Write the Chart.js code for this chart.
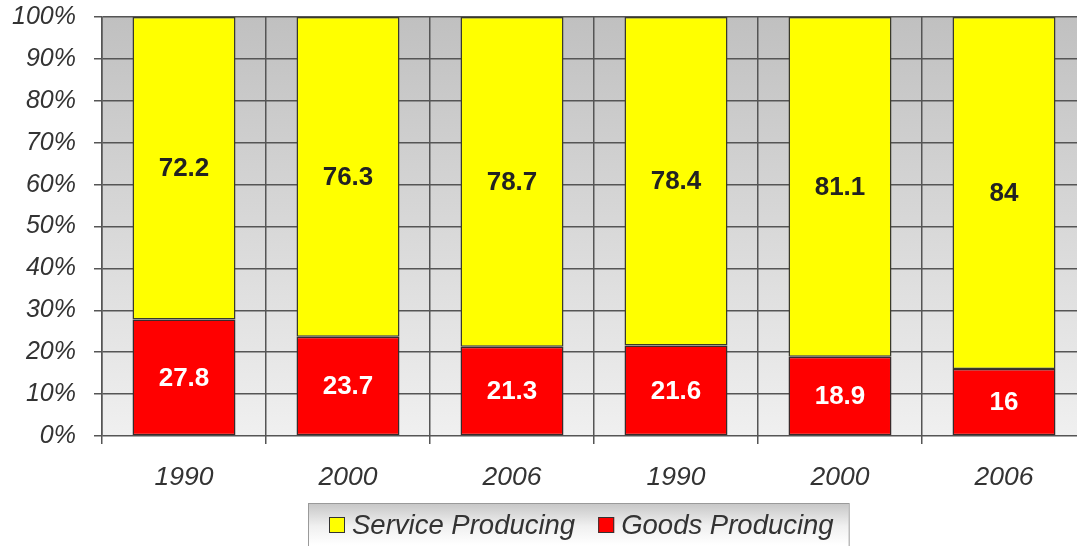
<!DOCTYPE html>
<html>
<head>
<meta charset="utf-8">
<script src="https://cdn.jsdelivr.net/npm/chart.js@4/dist/chart.umd.min.js"></script>
<style>
  html, body { margin: 0; padding: 0; background: #fff; overflow: hidden; }
  #wrap { position: absolute; left: 0; top: -16px; width: 1118px; height: 566px; }
</style>
</head>
<body>
<div id="wrap"><canvas id="c"></canvas></div>
<script>
const categories = ['1990', '2000', '2006', '1990', '2000', '2006'];
const serviceProducing = [72.2, 76.3, 78.7, 78.4, 81.1, 84];
const goodsProducing = [27.8, 23.7, 21.3, 21.6, 18.9, 16];
const seriesNames = ['Service Producing', 'Goods Producing'];
const yTicks = [0, 10, 20, 30, 40, 50, 60, 70, 80, 90, 100];

const FONT = '"Liberation Sans", Arial, sans-serif';

const bgPlugin = {
  id: 'bgPlugin',
  beforeDraw(chart) {
    const { ctx, chartArea: a } = chart;
    const g = ctx.createLinearGradient(0, a.top, 0, a.bottom);
    g.addColorStop(0, '#c0c0c0');
    g.addColorStop(1, '#f0f0f0');
    ctx.save();
    ctx.fillStyle = g;
    ctx.fillRect(a.left, a.top, a.right - a.left, a.bottom - a.top);
    ctx.restore();
  }
};

const legendPlugin = {
  id: 'legendPlugin',
  afterDraw(chart) {
    const { ctx, chartArea: a } = chart;
    const items = [...chart.data.datasets].reverse();
    ctx.save();
    ctx.font = 'italic 27.5px ' + FONT;
    const widths = items.map(ds => ctx.measureText(ds.label).width);
    const box = 16, gapText = 7, gapItem = 23, padL = 21, padR = 15;
    let content = 0;
    widths.forEach((w, i) => { content += box + gapText + w + (i < widths.length - 1 ? gapItem : 0); });
    const frameW = padL + content + padR;
    const cx = 578.5;
    const left = Math.round(cx - frameW / 2);
    const top = a.bottom + 67;
    const bottom = top + 60;
    const g2 = ctx.createLinearGradient(0, top, 0, top + 42);
    g2.addColorStop(0, '#c6c6c6');
    g2.addColorStop(0.55, '#f0f0f0');
    g2.addColorStop(1, '#ffffff');
    ctx.fillStyle = g2;
    ctx.fillRect(left, top, frameW, bottom - top);
    ctx.strokeStyle = '#9a9a9a';
    ctx.lineWidth = 1;
    ctx.strokeRect(left + 0.5, top + 0.5, frameW, bottom - top);
    const cy = top + 22;
    let x = left + padL;
    ctx.textBaseline = 'middle';
    ctx.textAlign = 'left';
    items.forEach((ds, i) => {
      ctx.fillStyle = ds.backgroundColor;
      ctx.fillRect(x, cy - box / 2, box, box);
      ctx.strokeStyle = '#333333';
      ctx.lineWidth = 1;
      ctx.strokeRect(x + 0.5, cy - box / 2 + 0.5, box - 1, box - 1);
      x += box + gapText;
      ctx.fillStyle = '#333333';
      ctx.fillText(ds.label, x, cy + 1);
      x += widths[i] + gapItem;
    });
    ctx.restore();
  }
};

const labelPlugin = {
  id: 'labelPlugin',
  afterDatasetsDraw(chart) {
    const { ctx } = chart;
    ctx.save();
    ctx.font = 'bold 26px ' + FONT;
    ctx.textAlign = 'center';
    ctx.textBaseline = 'middle';
    chart.data.datasets.forEach((ds, di) => {
      const meta = chart.getDatasetMeta(di);
      meta.data.forEach((el, i) => {
        const p = el.getProps(['x', 'y', 'base'], true);
        ctx.fillStyle = ds.labelColor;
        ctx.fillText(String(ds.data[i]), p.x, (p.y + p.base) / 2 + 1);
      });
    });
    ctx.restore();
  }
};

new Chart(document.getElementById('c'), {
  type: 'bar',
  data: {
    labels: categories,
    datasets: [
      {
        label: seriesNames[1],
        data: goodsProducing,
        backgroundColor: '#ff0000',
        borderColor: '#3a2a2a',
        borderWidth: 1.5,
        borderSkipped: false,
        labelColor: '#ffffff',
        barPercentage: 0.628,
        categoryPercentage: 1
      },
      {
        label: seriesNames[0],
        data: serviceProducing,
        backgroundColor: '#ffff00',
        borderColor: '#3a3a2a',
        borderWidth: 1.5,
        borderSkipped: false,
        labelColor: '#222222',
        barPercentage: 0.628,
        categoryPercentage: 1
      }
    ]
  },
  options: {
    responsive: true,
    maintainAspectRatio: false,
    animation: false,
    layout: { padding: { top: 2, right: 32, left: 0, bottom: 46 } },
    plugins: {
      tooltip: { enabled: false },
      legend: { display: false }
    },
    scales: {
      x: {
        stacked: true,
        grid: { display: true, offset: true, color: '#555555', lineWidth: 1.5, tickLength: 8, drawOnChartArea: true },
        border: { display: false },
        ticks: {
          color: '#333333',
          padding: 18,
          font: { family: FONT, size: 26.5, style: 'italic' }
        },
        afterFit(s) { s.height = 68; }
      },
      y: {
        stacked: true,
        min: 0,
        max: 100,
        afterBuildTicks(s) { s.ticks = yTicks.map(v => ({ value: v })); },
        grid: { color: '#555555', lineWidth: 1.5, tickLength: 8 },
        border: { display: true, color: '#555555', width: 1.5 },
        ticks: {
          color: '#333333',
          padding: 18,
          font: { family: FONT, size: 25, style: 'italic' },
          callback: v => v + '%'
        },
        afterFit(s) { s.width = 102; }
      }
    }
  },
  plugins: [bgPlugin, labelPlugin, legendPlugin]
});
</script>
</body>
</html>
